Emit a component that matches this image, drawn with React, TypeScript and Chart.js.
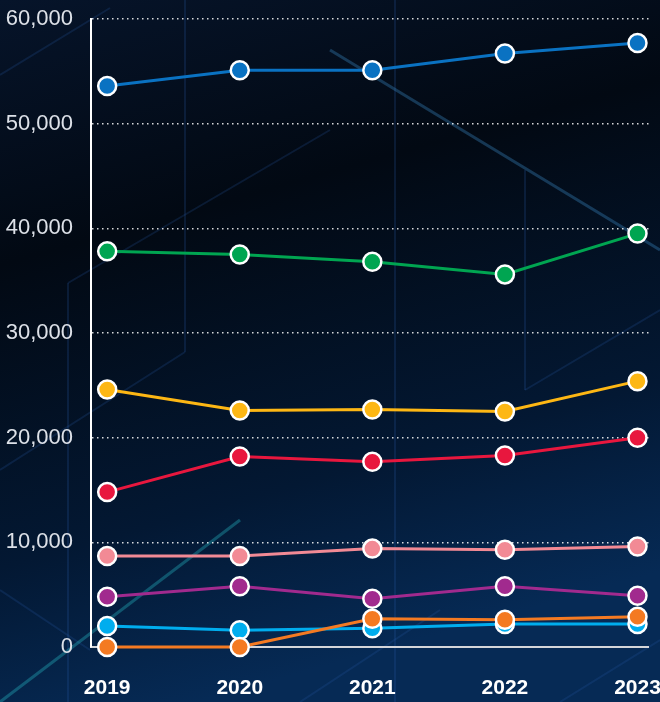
import React, { useEffect, useRef } from "react";
import { Chart, registerables } from "chart.js";

Chart.register(...registerables);

const years = [2019, 2020, 2021, 2022, 2023];
const yTicks = [0, 10000, 20000, 30000, 40000, 50000, 60000];

const blueSeries = [53600, 55100, 55100, 56700, 57700];
const greenSeries = [37800, 37500, 36800, 35600, 39500];
const yellowSeries = [24600, 22600, 22700, 22500, 25400];
const redSeries = [14800, 18200, 17700, 18300, 20000];
const pinkSeries = [8700, 8700, 9400, 9300, 9600];
const purpleSeries = [4800, 5800, 4600, 5800, 4900];
const cyanSeries = [2000, 1600, 1800, 2200, 2200];
const orangeSeries = [0, 0, 2700, 2600, 2900];

const seriesList = [
  { data: blueSeries, color: "#0a72c2" },
  { data: greenSeries, color: "#00a551" },
  { data: yellowSeries, color: "#fdb714" },
  { data: redSeries, color: "#e8173e" },
  { data: pinkSeries, color: "#f28a95" },
  { data: purpleSeries, color: "#a12a8e" },
  { data: orangeSeries, color: "#f47a22" },
  { data: cyanSeries, color: "#00adee" },
];

const bgPlugin = {
  id: "bgDecor",
  beforeDraw(chart: any) {
    const { ctx, width, height } = chart;
    ctx.save();
    const g = ctx.createLinearGradient(0, 0, width * 0.3, height);
    g.addColorStop(0, "#06142a");
    g.addColorStop(0.35, "#020913");
    g.addColorStop(0.75, "#031833");
    g.addColorStop(1, "#062a55");
    ctx.fillStyle = g;
    ctx.fillRect(0, 0, width, height);
    ctx.lineWidth = 2;
    ctx.strokeStyle = "rgba(40,90,170,0.22)";
    const segs = [
      [0, 75, 110, 8],
      [68, 283, 68, 702],
      [68, 283, 330, 130],
      [185, 0, 185, 352],
      [185, 352, 0, 470],
      [395, 0, 395, 702],
      [525, 170, 525, 390],
      [525, 390, 660, 310],
      [0, 590, 90, 650],
      [300, 702, 440, 610],
      [560, 702, 660, 640],
    ];
    segs.forEach(([a, b, c, d]) => {
      ctx.beginPath();
      ctx.moveTo(a, b);
      ctx.lineTo(c, d);
      ctx.stroke();
    });
    ctx.strokeStyle = "rgba(60,140,200,0.35)";
    ctx.lineWidth = 3;
    ctx.beginPath();
    ctx.moveTo(330, 50);
    ctx.lineTo(660, 250);
    ctx.stroke();
    ctx.strokeStyle = "rgba(40,190,200,0.35)";
    ctx.beginPath();
    ctx.moveTo(0, 702);
    ctx.lineTo(240, 520);
    ctx.stroke();
    ctx.restore();
  },
};

export default function App() {
  const ref = useRef<HTMLCanvasElement>(null);
  useEffect(() => {
    document.body.style.margin = "0";
    const chart = new Chart(ref.current as HTMLCanvasElement, {
      type: "line",
      data: {
        datasets: seriesList.map((s) => ({
          data: s.data.map((v, i) => ({ x: years[i], y: v })),
          borderColor: s.color,
          backgroundColor: s.color,
          borderWidth: 3,
          pointRadius: 9,
          pointHoverRadius: 9,
          pointBorderWidth: 2.5,
          pointBorderColor: "#ffffff",
          pointBackgroundColor: s.color,
          tension: 0,
          clip: false as any,
        })),
      },
      options: {
        animation: false,
        responsive: false,
        layout: { padding: { top: 19, right: 9, left: 0, bottom: 0 } },
        plugins: { legend: { display: false }, tooltip: { enabled: false } },
        scales: {
          x: {
            type: "linear",
            min: 2018.878,
            max: 2023.083,
            grid: { display: false, drawTicks: false },
            border: { display: true, color: "#d4d6da", width: 2 },
            afterBuildTicks: (scale: any) => {
              scale.ticks = years.map((v) => ({ value: v }));
            },
            afterFit: (scale: any) => {
              scale.height = 55;
              scale.paddingLeft = 0;
              scale.paddingRight = 0;
            },
            ticks: {
              autoSkip: false,
              maxRotation: 0,
              padding: 29,
              color: "#ffffff",
              font: { family: "'Liberation Sans', Arial, sans-serif", size: 21, weight: "bold" },
              callback: (v: any) => String(v),
            },
          },
          y: {
            min: 0,
            max: 60000,
            afterBuildTicks: (scale: any) => {
              scale.ticks = yTicks.map((v) => ({ value: v }));
            },
            afterFit: (scale: any) => {
              scale.width = 91;
              scale.paddingTop = 0;
              scale.paddingBottom = 0;
            },
            grid: {
              drawTicks: false,
              lineWidth: 1.5,
              color: (c: any) => (c.tick && c.tick.value === 0 ? "rgba(0,0,0,0)" : "rgba(255,255,255,0.85)"),
            },
            border: { display: true, color: "#ffffff", width: 2, dash: [1.5, 3.5] },
            ticks: {
              padding: 18,
              color: "#dde1e8",
              font: { family: "'Liberation Sans', Arial, sans-serif", size: 22 },
              callback: (v: any) => Number(v).toLocaleString("en-US"),
            },
          },
        },
      },
      plugins: [bgPlugin],
    });
    return () => chart.destroy();
  }, []);
  return (
    <div style={{ position: "absolute", left: 0, top: 0, width: 660, height: 702 }}>
      <canvas ref={ref} width={660} height={702} />
    </div>
  );
}
